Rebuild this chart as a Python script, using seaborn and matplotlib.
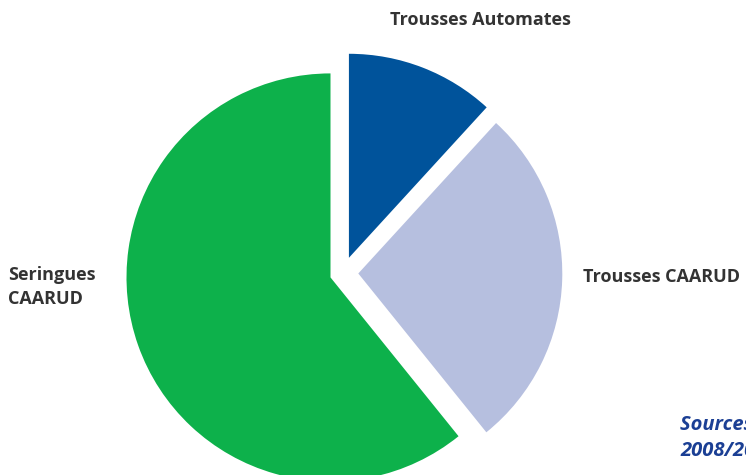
import matplotlib
matplotlib.use("Agg")
from matplotlib import pyplot as plt
import seaborn as sns

categories = ["Trousses Automates", "Trousses CAARUD", "Seringues\nCAARUD"]
values = [11.8, 27.4, 60.8]
colors = ["#00539b", "#b6bfdf", "#0db14b"]
explode = [0.08, 0.075, 0.065]

sns.set_theme(style="white")
plt.rcParams['font.family'] = ['Open Sans', 'DejaVu Sans']

fig = plt.figure(figsize=(7.46, 4.75), dpi=100)
ax = fig.add_axes([0, 0, 1, 1])

wedges, _ = ax.pie(values, colors=colors, explode=explode, startangle=90,
                   counterclock=False, radius=1.0,
                   wedgeprops=dict(linewidth=0))

# pie centre ~ (343, 273) px, radius ~ 204 px
r = 204.0
cx, cy = 343.0, 273.0
ax.set_xlim(-cx / r, (746 - cx) / r)
ax.set_ylim((cy - 475) / r, cy / r)
ax.set_aspect('auto')
ax.axis('off')

lab = dict(fontsize=13, fontweight='bold', color='#333333')
ax.text(480 / 746, 1 - 20 / 475, categories[0], transform=ax.transAxes,
        ha='center', va='center', **lab)
ax.text(583 / 746, 1 - 277 / 475, categories[1], transform=ax.transAxes,
        ha='left', va='center', **lab)
ax.text(8 / 746, 1 - 287 / 475, categories[2], transform=ax.transAxes,
        ha='left', va='center', linespacing=1.45, **lab)

ax.text(680 / 746, 1 - 438 / 475, "Sources : rapports d'activité\n2008/2009",
        transform=ax.transAxes, ha='left', va='center', fontsize=14.5,
        fontweight='bold', fontstyle='italic', color='#1b3f94',
        linespacing=1.35)

fig.savefig("out.png", dpi=100)
